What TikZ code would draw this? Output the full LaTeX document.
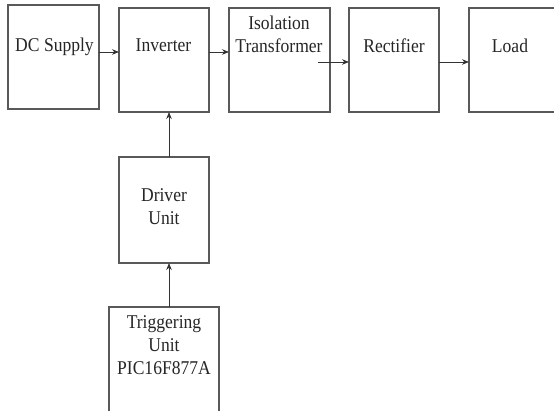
\documentclass[tikz,border=0pt]{standalone}
\usepackage{fontspec}
\setmainfont[FakeStretch=0.9]{Liberation Serif}
\usetikzlibrary{arrows.meta}
\begin{document}
\begin{tikzpicture}[x=1pt,y=-1pt,
  box/.style={draw=black!65,line width=1.1pt,anchor=north west,inner sep=0pt,outer sep=0pt},
  lbl/.style={font=\fontsize{19.5}{23}\selectfont,text=black!85,align=center,inner sep=0pt,anchor=base},
  conn/.style={draw=black!80,line width=0.8pt,-{Stealth[length=7pt,width=5.5pt]}}]
\useasboundingbox[clip] (0,0) rectangle (554,411);
\fill[white] (0,0) rectangle (554,411);
\node[box,minimum width=91pt,minimum height=104pt] (dc) at (8,5) {};
\node[box,minimum width=90pt,minimum height=104pt] (inv) at (119,8) {};
\node[box,minimum width=101pt,minimum height=104pt] (iso) at (229,8) {};
\node[box,minimum width=90pt,minimum height=104pt] (rect) at (349,8) {};
\node[box,minimum width=95pt,minimum height=104pt] (load) at (469,8) {};
\node[box,minimum width=90pt,minimum height=106pt] (drv) at (119,157) {};
\node[box,minimum width=110pt,minimum height=120pt] (trig) at (109,307) {};
\node[lbl] (dcT) at (54.5,52) {DC Supply};
\node[lbl] (invT) at (163.5,52) {Inverter};
\node[lbl] (isoT) at (279,53) {Isolation\\Transformer};
\node[lbl] (rectT) at (394,53) {Rectifier};
\node[lbl] (loadT) at (510,53) {Load};
\node[lbl] (drvT) at (164,225) {Driver\\Unit};
\node[lbl] (trigT) at (164,374) {Triggering\\Unit\\PIC16F877A};
\coordinate (isoOut) at (318,62);
\draw[conn] (dc.east |- 0,52) -- (inv.west |- 0,52);
\draw[conn] (inv.east |- 0,52) -- (iso.west |- 0,52);
\draw[conn] (isoOut) -- (rect.west |- isoOut);
\draw[conn] (rect.east |- 0,62) -- (load.west |- 0,62);
\draw[conn] (drv.north -| 169,0) -- (inv.south -| 169,0);
\draw[conn] (trig.north -| 169,0) -- (drv.south -| 169,0);
\end{tikzpicture}
\end{document}
